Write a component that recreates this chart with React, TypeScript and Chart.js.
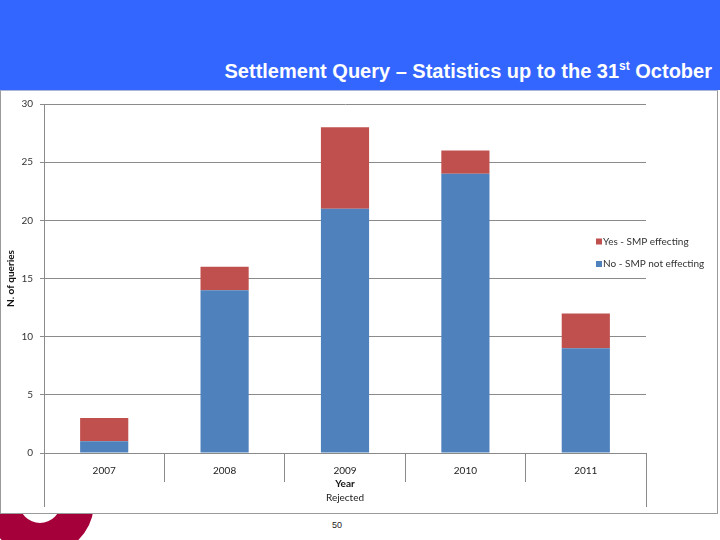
import React, { useEffect, useRef } from "react";
import { Chart, registerables } from "chart.js";

Chart.register(...registerables);

const years = ["2007", "2008", "2009", "2010", "2011"];
const noSmpNotEffecting = [1, 14, 21, 24, 9];
const yesSmpEffecting = [2, 2, 7, 2, 3];
const seriesLabels = ["No - SMP not effecting", "Yes - SMP effecting"];
const seriesColors = ["#4F81BD", "#C0504D"];
const yMax = 30;
const yStep = 5;

const GRID = "#8a8a8a";
const FONT = "Lato, 'Open Sans', sans-serif";

export default function App() {
  const ref = useRef<HTMLCanvasElement>(null);

  useEffect(() => {
    if (!ref.current) return;

    const extras = {
      id: "extras",
      afterDraw(chart: any) {
        const ctx = chart.ctx as CanvasRenderingContext2D;
        const { left, right, bottom } = chart.chartArea;
        ctx.save();
        // outer frame lines of the category table
        ctx.strokeStyle = GRID;
        ctx.lineWidth = 1;
        ctx.beginPath();
        const lx = Math.round(left) + 0.5;
        const rx = Math.round(right) + 0.5;
        ctx.moveTo(lx, bottom);
        ctx.lineTo(lx, bottom + 54);
        ctx.moveTo(rx, bottom);
        ctx.lineTo(rx, bottom + 54);
        ctx.stroke();
        // second line of x-axis title
        ctx.fillStyle = "#222";
        ctx.font = `10px ${FONT}`;
        ctx.textAlign = "center";
        ctx.textBaseline = "middle";
        ctx.fillText("Rejected", (left + right) / 2, bottom + 45);
        // legend (reverse order: top series first)
        const items = [
          { label: seriesLabels[1], color: seriesColors[1] },
          { label: seriesLabels[0], color: seriesColors[0] },
        ];
        ctx.textAlign = "left";
        items.forEach((it, i) => {
          const cy = 150.5 + i * 22.5;
          ctx.fillStyle = it.color;
          ctx.fillRect(right - 50, cy - 3, 6, 6);
          ctx.fillStyle = "#333";
          ctx.fillText(it.label, right - 43, cy);
        });
        ctx.restore();
      },
    };

    const chart = new Chart(ref.current, {
      type: "bar",
      data: {
        labels: years,
        datasets: [
          {
            label: seriesLabels[0],
            data: noSmpNotEffecting,
            backgroundColor: seriesColors[0],
            barPercentage: 0.4,
            categoryPercentage: 1,
          },
          {
            label: seriesLabels[1],
            data: yesSmpEffecting,
            backgroundColor: seriesColors[1],
            barPercentage: 0.4,
            categoryPercentage: 1,
          },
        ],
      },
      options: {
        animation: false,
        responsive: true,
        maintainAspectRatio: false,
        layout: { padding: { left: 0, right: 71, top: 11, bottom: 0 } },
        plugins: {
          legend: { display: false },
          title: { display: false },
          tooltip: { enabled: false },
        },
        scales: {
          x: {
            stacked: true,
            afterFit: (s: any) => {
              s.height = 60;
            },
            grid: {
              offset: true,
              drawOnChartArea: false,
              drawTicks: true,
              tickLength: 29,
              color: GRID,
            },
            border: { display: true, color: GRID },
            ticks: {
              padding: -17,
              color: "#222",
              font: { family: FONT, size: 10 },
              maxRotation: 0,
            },
            title: {
              display: true,
              text: "Year",
              color: "#111",
              font: { family: FONT, size: 10, weight: "bold" },
              padding: { top: 0, bottom: 23 },
            },
          },
          y: {
            stacked: true,
            min: 0,
            max: yMax,
            afterFit: (s: any) => {
              s.width = 43;
            },
            grid: {
              color: GRID,
              drawTicks: true,
              tickLength: 4,
            },
            border: { display: true, color: GRID },
            ticks: {
              stepSize: yStep,
              padding: 7,
              color: "#333",
              font: { family: FONT, size: 10 },
            },
            title: {
              display: true,
              text: "N. of queries",
              color: "#111",
              font: { family: FONT, size: 10, weight: "bold" },
              padding: { top: 4, bottom: 0 },
            },
          },
        },
      },
      plugins: [extras],
    });
    return () => chart.destroy();
  }, []);

  return (
    <div
      style={{
        position: "fixed",
        left: 0,
        top: 0,
        width: 720,
        height: 540,
        overflow: "hidden",
        background: "#ffffff",
        fontFamily: "'Liberation Sans', Arial, sans-serif",
      }}
    >
      <div
        style={{
          position: "absolute",
          left: 0,
          top: 0,
          width: 720,
          height: 90,
          background: "#3366FF",
        }}
      />
      <div
        style={{
          position: "absolute",
          right: 8,
          top: 61,
          color: "#ffffff",
          fontWeight: "bold",
          fontSize: 20,
          lineHeight: "20px",
          whiteSpace: "nowrap",
        }}
      >
        Settlement Query – Statistics up to the 31
        <span style={{ fontSize: 12, position: "relative", top: -8 }}>st</span> October
      </div>
      {/* logo ring */}
      <div
        style={{
          position: "absolute",
          left: 40 - 54,
          top: 502 - 54,
          width: 108,
          height: 108,
          borderRadius: "50%",
          boxSizing: "border-box",
          border: "33px solid #A6003A",
          background: "transparent",
        }}
      />
      <div
        style={{
          position: "absolute",
          left: 0,
          top: 90,
          width: 718,
          height: 424,
          boxSizing: "border-box",
          border: "1px solid #9a9a9a",
          borderTop: "1px solid #a9b6d6",
          background: "#ffffff",
        }}
      >
        <div style={{ position: "absolute", left: 0, top: 0, width: 716, height: 422 }}>
          <canvas ref={ref} />
        </div>
      </div>
      <div
        style={{
          position: "absolute",
          left: 327,
          top: 520,
          width: 20,
          textAlign: "center",
          fontSize: 9,
          color: "#222",
        }}
      >
        50
      </div>
    </div>
  );
}
